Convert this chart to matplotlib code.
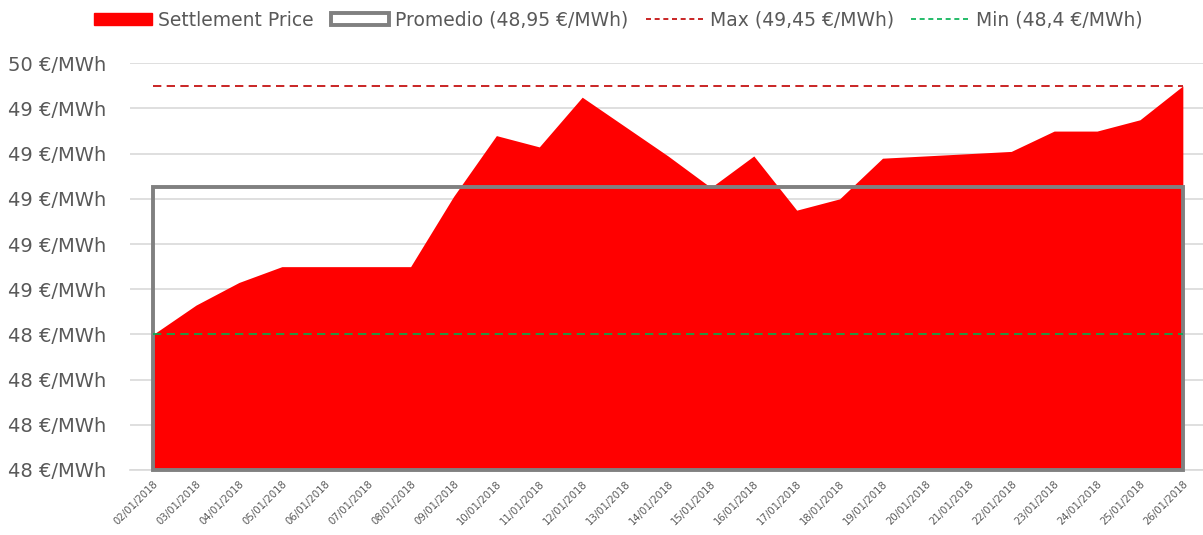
import matplotlib
matplotlib.use("Agg")
import matplotlib.pyplot as plt
from matplotlib.patches import Patch, Rectangle
from matplotlib.lines import Line2D
import numpy as np

plt.rcParams['font.family'] = ['DejaVu Sans']

# Data
dates = ["02/01/2018", "03/01/2018", "04/01/2018", "05/01/2018", "06/01/2018",
         "07/01/2018", "08/01/2018", "09/01/2018", "10/01/2018", "11/01/2018",
         "12/01/2018", "13/01/2018", "14/01/2018", "15/01/2018", "16/01/2018",
         "17/01/2018", "18/01/2018", "19/01/2018", "20/01/2018", "21/01/2018",
         "22/01/2018", "23/01/2018", "24/01/2018", "25/01/2018", "26/01/2018"]
prices = [48.40, 48.53, 48.63, 48.70, 48.70, 48.70, 48.70, 49.01, 49.28, 49.23,
          49.45, 49.32, 49.19, 49.05, 49.19, 48.95, 49.00, 49.18, 49.19, 49.20,
          49.21, 49.30, 49.30, 49.35, 49.50]
legend_labels = ["Settlement Price", "Promedio (48,95 €/MWh)",
                 "Max (49,45 €/MWh)", "Min (48,4 €/MWh)"]

y_min, y_max, y_step = 47.8, 49.6, 0.2

text_color = "#595959"
grid_color = "#d9d9d9"
red = "#ff0000"
gray = "#808080"
max_color = "#c00000"
min_color = "#00b050"

fig = plt.figure(figsize=(12.03, 5.35), dpi=100)
ax = fig.add_axes([130 / 1203, 65 / 535, 1073 / 1203, 406.7 / 535])

x = np.arange(len(dates))
ax.fill_between(x, y_min, prices, color=red, linewidth=0, zorder=2)

avg = np.mean(prices)
box = Rectangle((0, y_min), len(dates) - 1, avg - y_min, fill=False,
                edgecolor=gray, linewidth=2.8, zorder=3, clip_on=False)
ax.add_patch(box)

ax.plot([0, len(dates) - 1], [max(prices), max(prices)], color=max_color,
        linewidth=1.2, dashes=(5, 3.2), zorder=4)
ax.plot([0, len(dates) - 1], [min(prices), min(prices)], color=min_color,
        linewidth=1.2, dashes=(5, 3.2), zorder=4)

ax.set_xlim(-0.54, len(dates) - 1 + 0.47)
ax.set_ylim(y_min, y_max)
yticks = np.arange(y_min, y_max + 0.001, y_step)
ax.set_yticks(yticks)
ax.set_yticklabels(["{:.0f} €/MWh".format(round(v, 1)) for v in yticks],
                   color=text_color, fontsize=14)
ax.set_xticks(x)
ax.set_xticklabels(dates, rotation=45, ha='right', rotation_mode='anchor',
                   color=text_color, fontsize=7.3)
ax.tick_params(axis='both', length=0)
ax.tick_params(axis='y', pad=17)
ax.tick_params(axis='x', pad=6)
ax.grid(axis='y', color=grid_color, linewidth=1.2, zorder=0)
ax.set_axisbelow(True)
for side in ['top', 'right', 'left']:
    ax.spines[side].set_visible(False)
ax.spines['bottom'].set_color(grid_color)
ax.spines['bottom'].set_linewidth(1.2)

handles = [
    Patch(facecolor=red, edgecolor=red),
    Patch(facecolor='white', edgecolor=gray, linewidth=2.8),
    Line2D([0], [0], color=max_color, linewidth=1.2, dashes=(3, 2.2)),
    Line2D([0], [0], color=min_color, linewidth=1.2, dashes=(3, 2.2)),
]
leg = fig.legend(handles, legend_labels, loc='center', ncol=4,
                 bbox_to_anchor=(618 / 1203, 1 - 20 / 535), frameon=False,
                 fontsize=13.5, handlelength=3.1, handleheight=0.6,
                 handletextpad=0.35, columnspacing=0.9)
for t in leg.get_texts():
    t.set_color(text_color)

fig.savefig("out.png", dpi=100)
